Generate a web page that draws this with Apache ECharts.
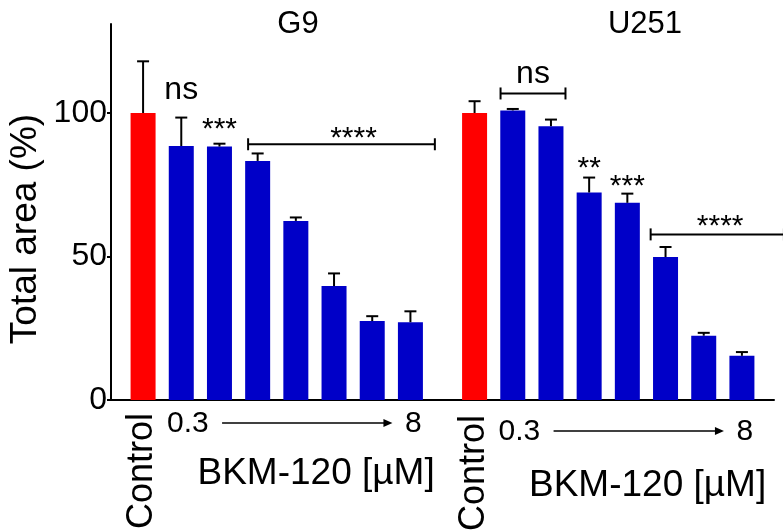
<!DOCTYPE html>
<html><head><meta charset="utf-8">
<script src="https://cdn.jsdelivr.net/npm/echarts@6/dist/echarts.min.js"></script>
<style>html,body{margin:0;padding:0;background:#fff}#c{width:783px;height:532px}</style>
</head><body><div id="c"></div>
<script>
// ---- data ----
const groups = ['G9', 'U251'];
const doseLabels = ['Control', '0.3', '', '', '', '', '', '8'];
const g9Mean = [100, 88.5, 88.3, 83.3, 62.4, 39.7, 27.5, 27.1];
const g9Sd = [18.0, 9.9, 1.0, 2.6, 1.2, 4.4, 1.7, 3.8];
const u251Mean = [100, 100.9, 95.4, 72.3, 68.7, 49.8, 22.4, 15.4];
const u251Sd = [4.1, 0.5, 2.3, 5.2, 3.2, 3.5, 1.0, 1.3];
const yTicks = [0, 50, 100];
const g9Sig = ['ns', '***'];
const u251Sig = ['**', '***'];
const bracketSig = ['****', 'ns', '****'];
const unitLabel = 'BKM-120 [µM]';
const yTitle = 'Total area (%)';

// ---- layout ----
const FONT = '"Liberation Sans", Arial, sans-serif';
const RED = '#ff0000', BLUE = '#0000c8';
const groupStart = [0.84, 9.52];   // slot offsets of each group's first bar
const means = [g9Mean, u251Mean];
const sds = [g9Sd, u251Sd];

const barData = [];
const errData = [];
means.forEach((arr, g) => arr.forEach((v, i) => {
  barData.push({ value: [groupStart[g] + i, v], itemStyle: { color: i === 0 ? RED : BLUE } });
  errData.push([groupStart[g] + i, v, v + sds[g][i]]);
}));

// annotations: [x, y] in data coordinates, text from arrays above
const textAnn = [
  { x: groupStart[0] + 1, y: 107.8, t: g9Sig[0], f: 32 },
  { x: groupStart[0] + 2, y: 94.1, t: g9Sig[1], f: 30 },
  { x: groupStart[1] + 3, y: 80.5, t: u251Sig[0], f: 30 },
  { x: groupStart[1] + 4, y: 74.2, t: u251Sig[1], f: 30 },
  { x: 6.35, y: 91.0, t: bracketSig[0], f: 30 },
  { x: 11.05, y: 113.6, t: bracketSig[1], f: 32 },
  { x: 15.95, y: 60.2, t: bracketSig[2], f: 30 }
];
const brackets = [[3.59, 8.48, 89.1], [10.2, 11.9, 106.8], [14.13, 17.62, 57.7]];

const chart = echarts.init(document.getElementById('c'), null, { renderer: 'canvas' });
const option = {
  animation: false,
  backgroundColor: '#fff',
  grid: { left: 111, right: 9, top: 24, bottom: 132 },
  xAxis: {
    type: 'value', min: 0, max: 17.36,
    axisLine: { show: true, lineStyle: { color: '#000', width: 2 } },
    axisTick: { show: false }, axisLabel: { show: false }, splitLine: { show: false }
  },
  yAxis: {
    type: 'value', min: 0, max: 131, interval: 50,
    axisLine: { show: true, lineStyle: { color: '#000', width: 2 } },
    axisTick: { show: true, length: 4, lineStyle: { color: '#000', width: 2 } },
    axisLabel: {
      color: '#000', fontSize: 32, fontFamily: FONT, margin: 4, showMaxLabel: false,
      formatter: v => yTicks.includes(v) ? String(v) : ''
    },
    splitLine: { show: false }
  },
  series: [
    { type: 'bar', data: barData, barWidth: 25, z: 2 },
    {
      type: 'custom', data: errData, z: 3,
      renderItem: (p, api) => {
        const x = api.value(0);
        const b = api.coord([x, api.value(1)]);
        const t = api.coord([x, api.value(2)]);
        const st = { stroke: '#000', lineWidth: 2 };
        return { type: 'group', children: [
          { type: 'line', shape: { x1: b[0], y1: b[1], x2: t[0], y2: t[1] }, style: st },
          { type: 'line', shape: { x1: t[0] - 6, y1: t[1], x2: t[0] + 6, y2: t[1] }, style: st }
        ] };
      }
    },
    {
      type: 'custom', data: brackets, z: 3, clip: false,
      renderItem: (p, api) => {
        const a = api.coord([api.value(0), api.value(2)]);
        const b = api.coord([api.value(1), api.value(2)]);
        const st = { stroke: '#000', lineWidth: 2 };
        return { type: 'group', children: [
          { type: 'line', shape: { x1: a[0], y1: a[1], x2: b[0], y2: b[1] }, style: st },
          { type: 'line', shape: { x1: a[0], y1: a[1] - 6, x2: a[0], y2: a[1] + 6 }, style: st },
          { type: 'line', shape: { x1: b[0], y1: b[1] - 6, x2: b[0], y2: b[1] + 6 }, style: st }
        ] };
      }
    },
    {
      type: 'custom', data: textAnn.map(a => [a.x, a.y]), z: 4, clip: false,
      renderItem: (p, api) => {
        const c = api.coord([api.value(0), api.value(1)]);
        const a = textAnn[p.dataIndex];
        return { type: 'text', x: c[0], y: c[1], style: {
          text: a.t, fill: '#000', font: a.f + 'px ' + FONT,
          align: 'center', verticalAlign: 'middle' } };
      }
    }
  ]
};
chart.setOption(option);

// axis-related text placed from the axis scale
const px = x => chart.convertToPixel({ xAxisIndex: 0 }, x);
const graphics = [];
graphics.push({ type: 'text', x: 26, y: 229, rotation: Math.PI / 2,
  style: { text: yTitle, font: '37px ' + FONT, fill: '#000', align: 'center', verticalAlign: 'middle' } });
const titleX = [298, 645];
const lblY = [424, 432];
const unitY = [474, 486];
groups.forEach((g, k) => {
  const c0 = px(groupStart[k]);
  const cEnd = px(groupStart[k] + 7);
  graphics.push({ type: 'text', x: titleX[k], y: 24,
    style: { text: g, font: '31px ' + FONT, fill: '#000', align: 'center', verticalAlign: 'middle' } });
  graphics.push({ type: 'text', x: c0 - 1, y: 471 + (k ? 2 : 0), rotation: Math.PI / 2,
    style: { text: doseLabels[0], font: '36px ' + FONT, fill: '#000', align: 'center', verticalAlign: 'middle' } });
  graphics.push({ type: 'text', x: c0 + 24, y: lblY[k],
    style: { text: doseLabels[1], font: '30px ' + FONT, fill: '#000', align: 'left', verticalAlign: 'middle' } });
  graphics.push({ type: 'text', x: cEnd + 3, y: lblY[k],
    style: { text: doseLabels[7], font: '30px ' + FONT, fill: '#000', align: 'center', verticalAlign: 'middle' } });
  const ax0 = c0 + 79, ax1 = cEnd - 18;
  graphics.push({ type: 'line', shape: { x1: ax0, y1: lblY[k] - 1, x2: ax1 - 6, y2: lblY[k] - 1 }, style: { stroke: '#000', lineWidth: 1.5 } });
  graphics.push({ type: 'polygon', shape: { points: [[ax1, lblY[k] - 1], [ax1 - 9, lblY[k] - 5], [ax1 - 9, lblY[k] + 3]] }, style: { fill: '#000' } });
  graphics.push({ type: 'text', x: c0 + 173, y: unitY[k],
    style: { text: unitLabel, font: '37px ' + FONT, fill: '#000', align: 'center', verticalAlign: 'middle' } });
});
chart.setOption({ graphic: graphics });
</script></body></html>
